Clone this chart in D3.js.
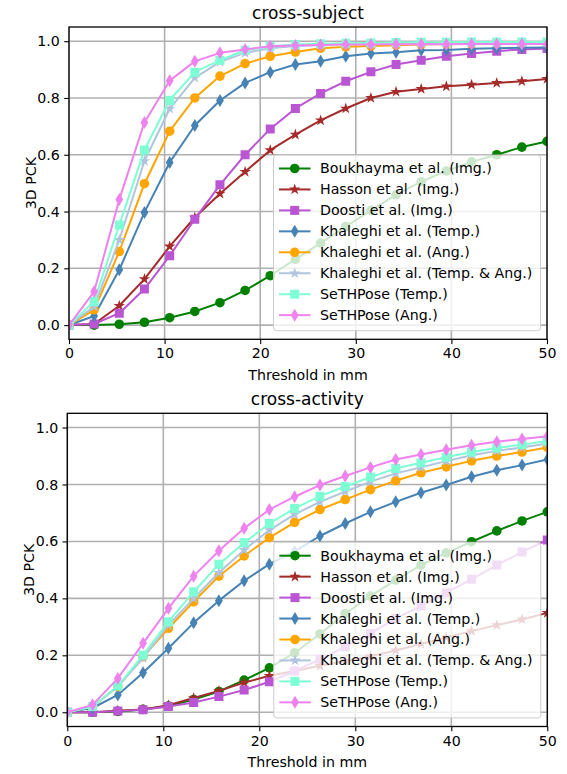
<!DOCTYPE html>
<html><head><meta charset="utf-8">
<script src="https://cdn.jsdelivr.net/npm/d3@7"></script>
<style>
body{margin:0;background:#fff}
svg{display:block}
text{font-family:"DejaVu Sans",sans-serif;fill:#000}
</style>
</head><body>
<svg id="chart" width="567" height="774"></svg>
<script>
// ---------- data ----------
const thresholds = [0, 2.63, 5.26, 7.89, 10.53, 13.16, 15.79, 18.42, 21.05, 23.68, 26.32, 28.95, 31.58, 34.21, 36.84, 39.47, 42.11, 44.74, 47.37, 50];
const seriesNames = ["Boukhayma et al. (Img.)", "Hasson et al. (Img.)", "Doosti et al. (Img.)", "Khaleghi et al. (Temp.)", "Khaleghi et al. (Ang.)", "Khaleghi et al. (Temp. & Ang.)", "SeTHPose (Temp.)", "SeTHPose (Ang.)"];
const seriesColors = ["#008000", "#a52a2a", "#ba55d3", "#4682b4", "#ffa500", "#b0c4de", "#7fffd4", "#ee82ee"];
const seriesMarkers = ["circle", "star", "square", "diamond", "circle", "star", "square", "diamond"];
const xTicks = [0, 10, 20, 30, 40, 50];
const yTicks = [0.0, 0.2, 0.4, 0.6, 0.8, 1.0];
const panelTitles = ["cross-subject", "cross-activity"];
const xLabel = "Threshold in mm";
const yLabel = "3D PCK";

// cross-subject
const subjBoukhayma = [0, 0.0, 0.003, 0.01, 0.026, 0.048, 0.079, 0.122, 0.174, 0.232, 0.289, 0.347, 0.404, 0.459, 0.505, 0.543, 0.575, 0.600, 0.627, 0.647];
const subjHasson = [0, 0.004, 0.068, 0.162, 0.277, 0.379, 0.463, 0.540, 0.616, 0.671, 0.721, 0.763, 0.800, 0.822, 0.832, 0.841, 0.847, 0.853, 0.859, 0.867];
const subjDoosti = [0, 0.004, 0.042, 0.127, 0.244, 0.373, 0.494, 0.600, 0.691, 0.763, 0.816, 0.859, 0.892, 0.918, 0.933, 0.947, 0.957, 0.965, 0.971, 0.974];
const subjKhalTemp = [0, 0.032, 0.195, 0.397, 0.573, 0.703, 0.791, 0.853, 0.891, 0.918, 0.929, 0.947, 0.957, 0.961, 0.968, 0.969, 0.973, 0.975, 0.977, 0.978];
const subjKhalAng = [0, 0.054, 0.259, 0.498, 0.683, 0.800, 0.877, 0.921, 0.947, 0.962, 0.975, 0.980, 0.983, 0.986, 0.988, 0.990, 0.991, 0.992, 0.993, 0.994];
const subjKhalBoth = [0, 0.065, 0.300, 0.578, 0.762, 0.871, 0.927, 0.959, 0.975, 0.983, 0.987, 0.990, 0.991, 0.992, 0.993, 0.994, 0.994, 0.995, 0.995, 0.995];
const subjSeTemp = [0, 0.083, 0.353, 0.617, 0.792, 0.891, 0.933, 0.968, 0.982, 0.988, 0.991, 0.993, 0.994, 0.995, 0.996, 0.996, 0.997, 0.997, 0.997, 0.997];
const subjSeAng = [0, 0.118, 0.442, 0.714, 0.861, 0.929, 0.959, 0.971, 0.982, 0.985, 0.987, 0.988, 0.988, 0.989, 0.989, 0.989, 0.990, 0.990, 0.990, 0.990];

// cross-activity
const actBoukhayma = [0, 0.0, 0.003, 0.01, 0.022, 0.045, 0.073, 0.113, 0.156, 0.209, 0.275, 0.347, 0.408, 0.464, 0.517, 0.560, 0.599, 0.637, 0.672, 0.704];
const actHasson = [0, 0.0, 0.005, 0.01, 0.025, 0.050, 0.075, 0.104, 0.128, 0.145, 0.163, 0.180, 0.197, 0.217, 0.240, 0.263, 0.285, 0.306, 0.326, 0.349];
const actDoosti = [0, 0.0, 0.004, 0.009, 0.020, 0.034, 0.055, 0.078, 0.107, 0.145, 0.186, 0.230, 0.277, 0.330, 0.373, 0.420, 0.467, 0.517, 0.563, 0.605];
const actKhalTemp = [0, 0.015, 0.061, 0.139, 0.225, 0.314, 0.392, 0.462, 0.520, 0.565, 0.619, 0.663, 0.704, 0.739, 0.771, 0.798, 0.827, 0.850, 0.868, 0.888];
const actKhalAng = [0, 0.020, 0.090, 0.195, 0.295, 0.388, 0.478, 0.549, 0.613, 0.667, 0.712, 0.747, 0.782, 0.813, 0.841, 0.862, 0.883, 0.900, 0.914, 0.930];
const actKhalBoth = [0, 0.020, 0.090, 0.190, 0.306, 0.400, 0.490, 0.570, 0.640, 0.695, 0.739, 0.775, 0.810, 0.839, 0.860, 0.882, 0.903, 0.918, 0.930, 0.944];
const actSeTemp = [0, 0.020, 0.092, 0.201, 0.318, 0.423, 0.520, 0.595, 0.663, 0.716, 0.759, 0.793, 0.826, 0.856, 0.876, 0.896, 0.914, 0.928, 0.940, 0.953];
const actSeAng = [0, 0.026, 0.119, 0.242, 0.365, 0.478, 0.567, 0.646, 0.712, 0.757, 0.798, 0.830, 0.860, 0.888, 0.905, 0.922, 0.938, 0.950, 0.960, 0.969];

const subjectSeries = [subjBoukhayma, subjHasson, subjDoosti, subjKhalTemp, subjKhalAng, subjKhalBoth, subjSeTemp, subjSeAng];
const activitySeries = [actBoukhayma, actHasson, actDoosti, actKhalTemp, actKhalAng, actKhalBoth, actSeTemp, actSeAng];

// ---------- drawing ----------
const svg = d3.select("#chart");
const FS = 14.2;

function markerPath(type) {
  if (type === "circle") return d3.symbol(d3.symbolCircle, Math.PI * 4.8 * 4.8)();
  if (type === "square") return "M-4.5,-4.5H4.5V4.5H-4.5Z";
  if (type === "diamond") return "M0,-6.5L3.9,0L0,6.5L-3.9,0Z";
  if (type === "star") {
    const R = 6, r = R * 0.382;
    const pts = d3.range(10).map(k => {
      const a = -Math.PI / 2 + k * Math.PI / 5;
      const rr = k % 2 === 0 ? R : r;
      return [rr * Math.cos(a), rr * Math.sin(a)];
    });
    return "M" + pts.map(p => p.join(",")).join("L") + "Z";
  }
}

function drawPanel(box, title, seriesList, clipId) {
  const x = d3.scaleLinear().domain([0, 50]).range([box.left, box.right]);
  const y = d3.scaleLinear().domain([-0.05, 1.05]).range([box.bottom, box.top]);
  const g = svg.append("g");

  // grid
  g.append("g").selectAll("line.gx").data(xTicks).join("line")
    .attr("x1", d => x(d)).attr("x2", d => x(d)).attr("y1", box.top).attr("y2", box.bottom)
    .attr("stroke", "#b0b0b0").attr("stroke-width", 1.6);
  g.append("g").selectAll("line.gy").data(yTicks).join("line")
    .attr("y1", d => y(d)).attr("y2", d => y(d)).attr("x1", box.left).attr("x2", box.right)
    .attr("stroke", "#b0b0b0").attr("stroke-width", 1.6);

  // clip
  svg.append("clipPath").attr("id", clipId).append("rect")
    .attr("x", box.left).attr("y", box.top).attr("width", box.right - box.left).attr("height", box.bottom - box.top);

  const plot = g.append("g").attr("clip-path", `url(#${clipId})`);
  const line = d3.line().x((d, i) => x(thresholds[i])).y(d => y(d));
  seriesList.forEach((vals, si) => {
    const sg = plot.append("g");
    sg.append("path").datum(vals).attr("d", line).attr("fill", "none")
      .attr("stroke", seriesColors[si]).attr("stroke-width", 2).attr("stroke-linejoin", "round");
    sg.selectAll("path.m").data(vals).join("path").attr("class", "m")
      .attr("d", markerPath(seriesMarkers[si]))
      .attr("transform", (d, i) => `translate(${x(thresholds[i])},${y(d)})`)
      .attr("fill", seriesColors[si]);
  });

  // axes
  const xa = g.append("g").attr("transform", `translate(0,${box.bottom})`)
    .call(d3.axisBottom(x).tickValues(xTicks).tickFormat(d3.format("d")).tickSize(4.8).tickPadding(4.3));
  const ya = g.append("g").attr("transform", `translate(${box.left},0)`)
    .call(d3.axisLeft(y).tickValues(yTicks).tickFormat(d3.format(".1f")).tickSize(4.8).tickPadding(4.3));
  [xa, ya].forEach(a => {
    a.select(".domain").remove();
    a.selectAll("line").attr("stroke", "#000").attr("stroke-width", 1.1);
    a.selectAll("text").attr("font-size", FS).attr("font-family", "DejaVu Sans").attr("fill", "#000");
  });
  g.append("rect").attr("x", box.left).attr("y", box.top)
    .attr("width", box.right - box.left).attr("height", box.bottom - box.top)
    .attr("fill", "none").attr("stroke", "#000").attr("stroke-width", 1.3);

  // title & labels
  g.append("text").attr("x", (box.left + box.right) / 2).attr("y", box.top - 8)
    .attr("text-anchor", "middle").attr("font-size", 17).text(title);
  g.append("text").attr("x", (box.left + box.right) / 2).attr("y", box.bottom + 40.5)
    .attr("text-anchor", "middle").attr("font-size", FS).text(xLabel);
  g.append("text").attr("transform", `translate(${box.left - 33},${(box.top + box.bottom) / 2}) rotate(-90)`)
    .attr("text-anchor", "middle").attr("font-size", FS).text(yLabel);

  // legend
  const lg = g.append("g");
  const lw = 267, rowH = 20.95;
  const lh = rowH * seriesNames.length + 8;
  const lx = box.right - 6.5 - lw, ly = box.bottom - 8.6 - lh;
  lg.append("rect").attr("x", lx).attr("y", ly).attr("width", lw).attr("height", lh)
    .attr("rx", 3).attr("fill", "#fff").attr("fill-opacity", 0.8)
    .attr("stroke", "#cccccc").attr("stroke-width", 1);
  seriesNames.forEach((name, si) => {
    const cy = ly + 13.4 + si * rowH;
    lg.append("line").attr("x1", lx + 5.5).attr("x2", lx + 37).attr("y1", cy).attr("y2", cy)
      .attr("stroke", seriesColors[si]).attr("stroke-width", 2);
    lg.append("path").attr("d", markerPath(seriesMarkers[si]))
      .attr("transform", `translate(${lx + 21.2},${cy})`).attr("fill", seriesColors[si]);
    lg.append("text").attr("x", lx + 46.5).attr("y", cy).attr("dy", "0.35em")
      .attr("font-size", FS).text(name);
  });
}

drawPanel({left: 69, right: 547, top: 27, bottom: 339.3}, panelTitles[0], subjectSeries, "clipA");
drawPanel({left: 67.3, right: 547.3, top: 413.3, bottom: 726.5}, panelTitles[1], activitySeries, "clipB");
</script>
</body></html>
